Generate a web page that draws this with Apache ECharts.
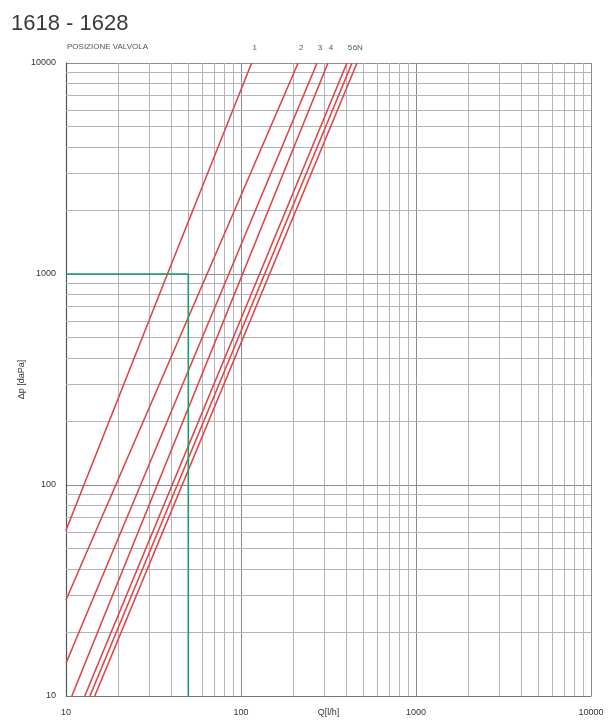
<!DOCTYPE html>
<html>
<head>
<meta charset="utf-8">
<script src="https://cdn.jsdelivr.net/npm/echarts@6/dist/echarts.min.js"></script>
<style>
  html, body { margin: 0; padding: 0; background: #fff; }
  #chart { width: 611px; height: 724px; }
</style>
</head>
<body>
<div id="chart"></div>
<script>
// valve positions and their curves [Q l/h, dp]
var positions = ['1', '2', '3', '4', '5', '6', 'N'];
var curve1 = [[10, 61], [38, 1000], [115, 10000]];
var curve2 = [[10, 28.5], [64, 1000], [212, 10000]];
var curve3 = [[10, 14.3], [272, 10000]];
var curve4 = [[10.8, 10], [314, 10000]];
var curve5 = [[12.8, 10], [403, 10000]];
var curve6 = [[13.7, 10], [431, 10000]];
var curveN = [[14.6, 10], [460, 10000]];
var curves = [curve1, curve2, curve3, curve4, curve5, curve6, curveN];

// example reading (green)
var example = [[10, 1000], [50, 1000], [50, 10]];

var xTicks = [10, 100, 1000, 10000];
var yTicks = [10, 100, 1000, 10000];
var minorSteps = [2, 3, 4, 5, 6, 7, 8, 9];

var font = 'Liberation Sans, Arial, sans-serif';

// minor log grid lines 2..9 x decade
var vLines = [], hLines = [];
for (var i = 0; i < xTicks.length - 1; i++) {
    minorSteps.forEach(function (s) { vLines.push({xAxis: xTicks[i] * s}); });
}
for (var j = 0; j < yTicks.length - 1; j++) {
    minorSteps.forEach(function (s) { hLines.push({yAxis: yTicks[j] * s}); });
}

var series = [];
series.push({
    type: 'line',
    data: [],
    silent: true,
    z: 1,
    markLine: {
        silent: true,
        symbol: 'none',
        z: 1,
        label: {show: false},
        lineStyle: {color: '#b4b4b4', width: 1, type: 'solid'},
        data: vLines.concat(hLines)
    }
});

curves.forEach(function (c, k) {
    var pts = c.map(function (p, idx) {
        if (idx == c.length - 1) {
            return {value: p, label: {show: true, formatter: positions[k], position: 'top', distance: 11, offset: [3, 0]}};
        }
        return {value: p};
    });
    series.push({
        name: positions[k],
        type: 'line',
        symbol: 'circle',
        symbolSize: 0,
        silent: true,
        z: 5,
        lineStyle: {color: '#de4548', width: 1.6},
        itemStyle: {color: '#de4548'},
        label: {color: '#555', fontSize: 8, fontFamily: font},
        data: pts
    });
});

series.push({
    type: 'line',
    symbol: 'none',
    silent: true,
    z: 6,
    lineStyle: {color: '#1f9a6a', width: 1.6},
    data: example
});

function plain(v) { return String(Math.round(v)); }

var chart = echarts.init(document.getElementById('chart'));
chart.setOption({
    animation: false,
    backgroundColor: '#fff',
    title: [
        {
            text: '1618 - 1628',
            left: 6, top: 8,
            textStyle: {fontFamily: font, fontSize: 22, fontWeight: 'normal', color: '#3a3a3a'}
        },
        {
            text: 'POSIZIONE VALVOLA',
            left: 62, top: 38,
            textStyle: {fontFamily: font, fontSize: 8, fontWeight: 'normal', color: '#555'}
        }
    ],
    grid: {left: 66, right: 20, top: 63, bottom: 28, outerBoundsMode: 'none'},
    xAxis: {
        type: 'log',
        min: 10, max: 10000,
        name: 'Q[l/h]',
        nameLocation: 'middle',
        nameGap: 12,
        nameMoveOverlap: false,
        nameTextStyle: {fontFamily: font, fontSize: 9, color: '#333'},
        axisLine: {lineStyle: {color: '#777', width: 1}},
        axisTick: {show: false},
        axisLabel: {fontFamily: font, fontSize: 9, color: '#333', margin: 12, formatter: plain},
        splitLine: {show: true, lineStyle: {color: '#8c8c8c', width: 1}}
    },
    yAxis: {
        type: 'log',
        min: 10, max: 10000,
        name: 'Δp [daPa]',
        nameLocation: 'middle',
        nameGap: 40,
        nameMoveOverlap: false,
        nameTextStyle: {fontFamily: font, fontSize: 9, color: '#333'},
        axisLine: {show: true, lineStyle: {color: '#555', width: 1.2}},
        axisTick: {show: false},
        axisLabel: {fontFamily: font, fontSize: 9, color: '#333', margin: 10, formatter: plain},
        splitLine: {show: true, lineStyle: {color: '#8c8c8c', width: 1}}
    },
    series: series
});
</script>
</body>
</html>
